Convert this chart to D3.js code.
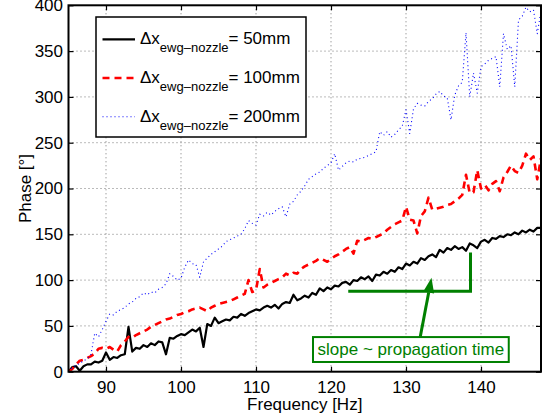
<!DOCTYPE html>
<html>
<head>
<meta charset="utf-8">
<script src="https://cdn.jsdelivr.net/npm/d3@7"></script>
<style>
  body { margin: 0; background: #fff; }
  text { font-family: "Liberation Sans", Arial, sans-serif; }
</style>
</head>
<body>
<svg id="drawing_region"></svg>
<script>
// frequency samples [Hz]
const freqs = [
  85,85.5,86,86.5,87,87.5,88,88.5,89,89.5,
  90,90.5,91,91.5,92,92.5,93,93.5,94,94.5,
  95,95.5,96,96.5,97,97.5,98,98.5,99,99.5,
  100,100.5,101,101.5,102,102.5,103,103.5,104,104.5,
  105,105.5,106,106.5,107,107.5,108,108.5,109,109.5,
  110,110.5,111,111.5,112,112.5,113,113.5,114,114.5,
  115,115.5,116,116.5,117,117.5,118,118.5,119,119.5,
  120,120.5,121,121.5,122,122.5,123,123.5,124,124.5,
  125,125.5,126,126.5,127,127.5,128,128.5,129,129.5,
  130,130.5,131,131.5,132,132.5,133,133.5,134,134.5,
  135,135.5,136,136.5,137,137.5,138,138.5,139,139.5,
  140,140.5,141,141.5,142,142.5,143,143.5,144,144.5,
  145,145.5,146,146.5,147,147.5,148
];

// phase [deg], dx = 50mm
const phase50 = [
  0,5,6,1,6,8,8,11,10,12,
  21,13,16,15,18,19,49,22,26,25,
  29,27,31,29,33,32,19,37,36,39,
  41,40,43,46,44,48,27,52,50,59,
  53,55,57,56,60,59,63,61,64,66,
  68,67,70,72,70,73,69,74,76,75,
  84,78,80,83,81,86,84,91,88,92,
  90,94,93,97,98,95,100,99,103,101,
  104,99,106,105,109,107,111,109,114,112,
  118,116,120,118,124,122,126,128,125,133,
  130,135,133,137,134,136,132,140,138,135,
  142,144,141,146,145,148,147,150,149,152,
  150,154,152,155,153,157,157
];

// phase [deg], dx = 100mm
const phase100 = [
  0,3,8,12,13,15,17,20,25,26,
  25,27,24,22,29,33,38,37,40,42,
  44,46,49,51,53,55,57,58,60,62,
  63,65,66,68,69,70,68,66,70,72,
  74,75,76,77,79,81,83,85,100,87,
  89,112,92,95,97,99,101,103,107,105,
  108,107,112,115,117,119,121,124,122,120,
  123,126,128,131,134,136,129,143,142,144,
  146,145,147,149,151,155,158,161,163,165,
  180,166,165,151,170,175,190,177,178,179,
  180,182,183,186,189,193,215,195,196,220,
  200,204,198,205,208,197,212,218,225,219,
  217,225,238,231,235,210,233
];

// phase [deg], dx = 200mm
const phase200 = [
  0,4,7,9,12,14,19,42,38,46,
  55,63,62,66,68,70,74,76,80,82,
  86,84,87,86,90,92,96,107,104,100,
  102,114,122,118,117,103,120,124,128,131,
  134,137,142,144,146,148,150,156,165,162,
  160,172,170,174,171,175,178,180,169,183,
  186,193,197,203,210,213,216,218,222,225,
  228,238,220,224,228,230,229,232,233,234,
  236,238,240,262,258,262,256,259,264,268,
  286,260,287,293,291,290,295,298,303,306,
  301,299,275,302,312,316,370,300,326,304,
  333,336,340,342,344,311,369,352,356,311,
  384,388,398,393,395,369,394
];

const seriesLabels = ["= 50mm", "= 100mm", "= 200mm"];
const xTicks = [90, 100, 110, 120, 130, 140];
const yTicks = [0, 50, 100, 150, 200, 250, 300, 350, 400];
const noteText = "slope ~ propagation time";

const W = 548, H = 419;
const margin = {top: 5.3, right: 7, bottom: 47.3, left: 68.5};
const iw = W - margin.left - margin.right;
const ih = H - margin.top - margin.bottom;
const green = "rgb(0,128,0)";
const FONT = 17;

const svg = d3.select('#drawing_region')
    .attr('width', W)
    .attr('height', H);

const chart = svg.append('g')
    .attr('transform', `translate(${margin.left}, ${margin.top})`);

const xscale = d3.scaleLinear().domain([85, 148]).range([0, iw]);
const yscale = d3.scaleLinear().domain([0, 400]).range([ih, 0]);

// grid
chart.append('g').selectAll('line')
    .data(xTicks).join('line')
    .attr('x1', d => xscale(d)).attr('x2', d => xscale(d))
    .attr('y1', 0).attr('y2', ih)
    .attr('stroke', '#777').attr('stroke-width', 1)
    .attr('stroke-dasharray', '1,3');
chart.append('g').selectAll('line')
    .data(yTicks.slice(1, -1)).join('line')
    .attr('y1', d => yscale(d)).attr('y2', d => yscale(d))
    .attr('x1', 0).attr('x2', iw)
    .attr('stroke', '#777').attr('stroke-width', 1)
    .attr('stroke-dasharray', '1,3');

// lines
svg.append('defs').append('clipPath').attr('id', 'clip')
    .append('rect').attr('width', iw).attr('height', ih);

const series = [
    {values: phase50, color: '#000', width: 2.2, dash: null},
    {values: phase100, color: '#ff0000', width: 2.6, dash: '7,5'},
    {values: phase200, color: '#0000ff', width: 1.1, dash: '1,3'}
];

const line = d3.line()
    .x((d, i) => xscale(freqs[i]))
    .y(d => yscale(d));

const plot = chart.append('g').attr('clip-path', 'url(#clip)');
series.forEach(s => {
    plot.append('path')
        .datum(s.values)
        .attr('d', line)
        .attr('fill', 'none')
        .attr('stroke', s.color)
        .attr('stroke-width', s.width)
        .attr('stroke-dasharray', s.dash)
        .attr('stroke-linejoin', 'round');
});

// axes
chart.append('g')
    .attr('transform', `translate(0, ${ih})`)
    .call(d3.axisBottom(xscale).tickValues(xTicks).tickSizeInner(-5).tickSizeOuter(0).tickPadding(9));
chart.append('g')
    .call(d3.axisLeft(yscale).tickValues(yTicks).tickSizeInner(-5).tickSizeOuter(0).tickPadding(5.5));
chart.append('g')
    .call(d3.axisTop(xscale).tickValues(xTicks).tickSizeInner(-5).tickSizeOuter(0).tickFormat(''));
chart.append('g')
    .attr('transform', `translate(${iw}, 0)`)
    .call(d3.axisRight(yscale).tickValues(yTicks).tickSizeInner(-5).tickSizeOuter(0).tickFormat(''));
chart.selectAll('.domain').remove();
chart.selectAll('.tick line').attr('stroke', '#000').attr('stroke-width', 1.2);
chart.selectAll('.tick text')
    .attr('font-size', FONT)
    .attr('font-family', '"Liberation Sans", Arial, sans-serif')
    .attr('fill', '#000');

chart.append('rect')
    .attr('width', iw).attr('height', ih)
    .attr('fill', 'none').attr('stroke', '#000').attr('stroke-width', 2);

// axis labels
svg.append('text')
    .attr('x', margin.left + iw / 2)
    .attr('y', 410)
    .attr('text-anchor', 'middle')
    .attr('font-size', FONT)
    .text('Frequency [Hz]');
svg.append('text')
    .attr('transform', `translate(31, ${margin.top + ih / 2}) rotate(-90)`)
    .attr('text-anchor', 'middle')
    .attr('font-size', FONT)
    .text('Phase [°]');

// legend
const legend = chart.append('g')
    .attr('transform', `translate(${96 - margin.left}, ${17 - margin.top})`);
legend.append('rect')
    .attr('width', 210).attr('height', 120)
    .attr('fill', '#fff').attr('stroke', '#000').attr('stroke-width', 1.5);
series.forEach((s, i) => {
    const y = 22.3 + i * 38.7;
    legend.append('line')
        .attr('x1', 6.5).attr('x2', 39)
        .attr('y1', y).attr('y2', y)
        .attr('stroke', s.color)
        .attr('stroke-width', s.width)
        .attr('stroke-dasharray', s.dash);
    const t = legend.append('text')
        .attr('x', 44).attr('y', y + 5)
        .attr('font-size', FONT);
    t.append('tspan').text('Δx');
    t.append('tspan').attr('font-size', 13).attr('dy', 8).text('ewg\u2013nozzle');
    t.append('tspan').attr('dy', -8).text(seriesLabels[i]);
});

// annotation
const note = chart.append('g');
note.append('polyline')
    .attr('points', [[xscale(122.3), yscale(87.8)], [xscale(138.6), yscale(87.8)], [xscale(138.6), yscale(130)]].join(' '))
    .attr('fill', 'none').attr('stroke', green).attr('stroke-width', 3);

const a0 = [xscale(131.9), yscale(38)], a1 = [xscale(133.4), yscale(102.5)];
const ang = Math.atan2(a1[1] - a0[1], a1[0] - a0[0]);
const hl = 15, hw = 5.5;
const base = [a1[0] - hl * Math.cos(ang), a1[1] - hl * Math.sin(ang)];
note.append('line')
    .attr('x1', a0[0]).attr('y1', a0[1])
    .attr('x2', base[0]).attr('y2', base[1])
    .attr('stroke', green).attr('stroke-width', 3);
note.append('polygon')
    .attr('points', [
        a1,
        [base[0] + hw * Math.sin(ang), base[1] - hw * Math.cos(ang)],
        [base[0] - hw * Math.sin(ang), base[1] + hw * Math.cos(ang)]
    ].join(' '))
    .attr('fill', green);

note.append('rect')
    .attr('x', xscale(117.6)).attr('y', yscale(37.8))
    .attr('width', xscale(143.7) - xscale(117.6))
    .attr('height', yscale(10.6) - yscale(37.8))
    .attr('fill', '#fff').attr('stroke', green).attr('stroke-width', 2);
note.append('text')
    .attr('x', (xscale(117.6) + xscale(143.7)) / 2)
    .attr('y', yscale(18.3))
    .attr('text-anchor', 'middle')
    .attr('font-size', FONT)
    .attr('fill', green)
    .text(noteText);
</script>
</body>
</html>
